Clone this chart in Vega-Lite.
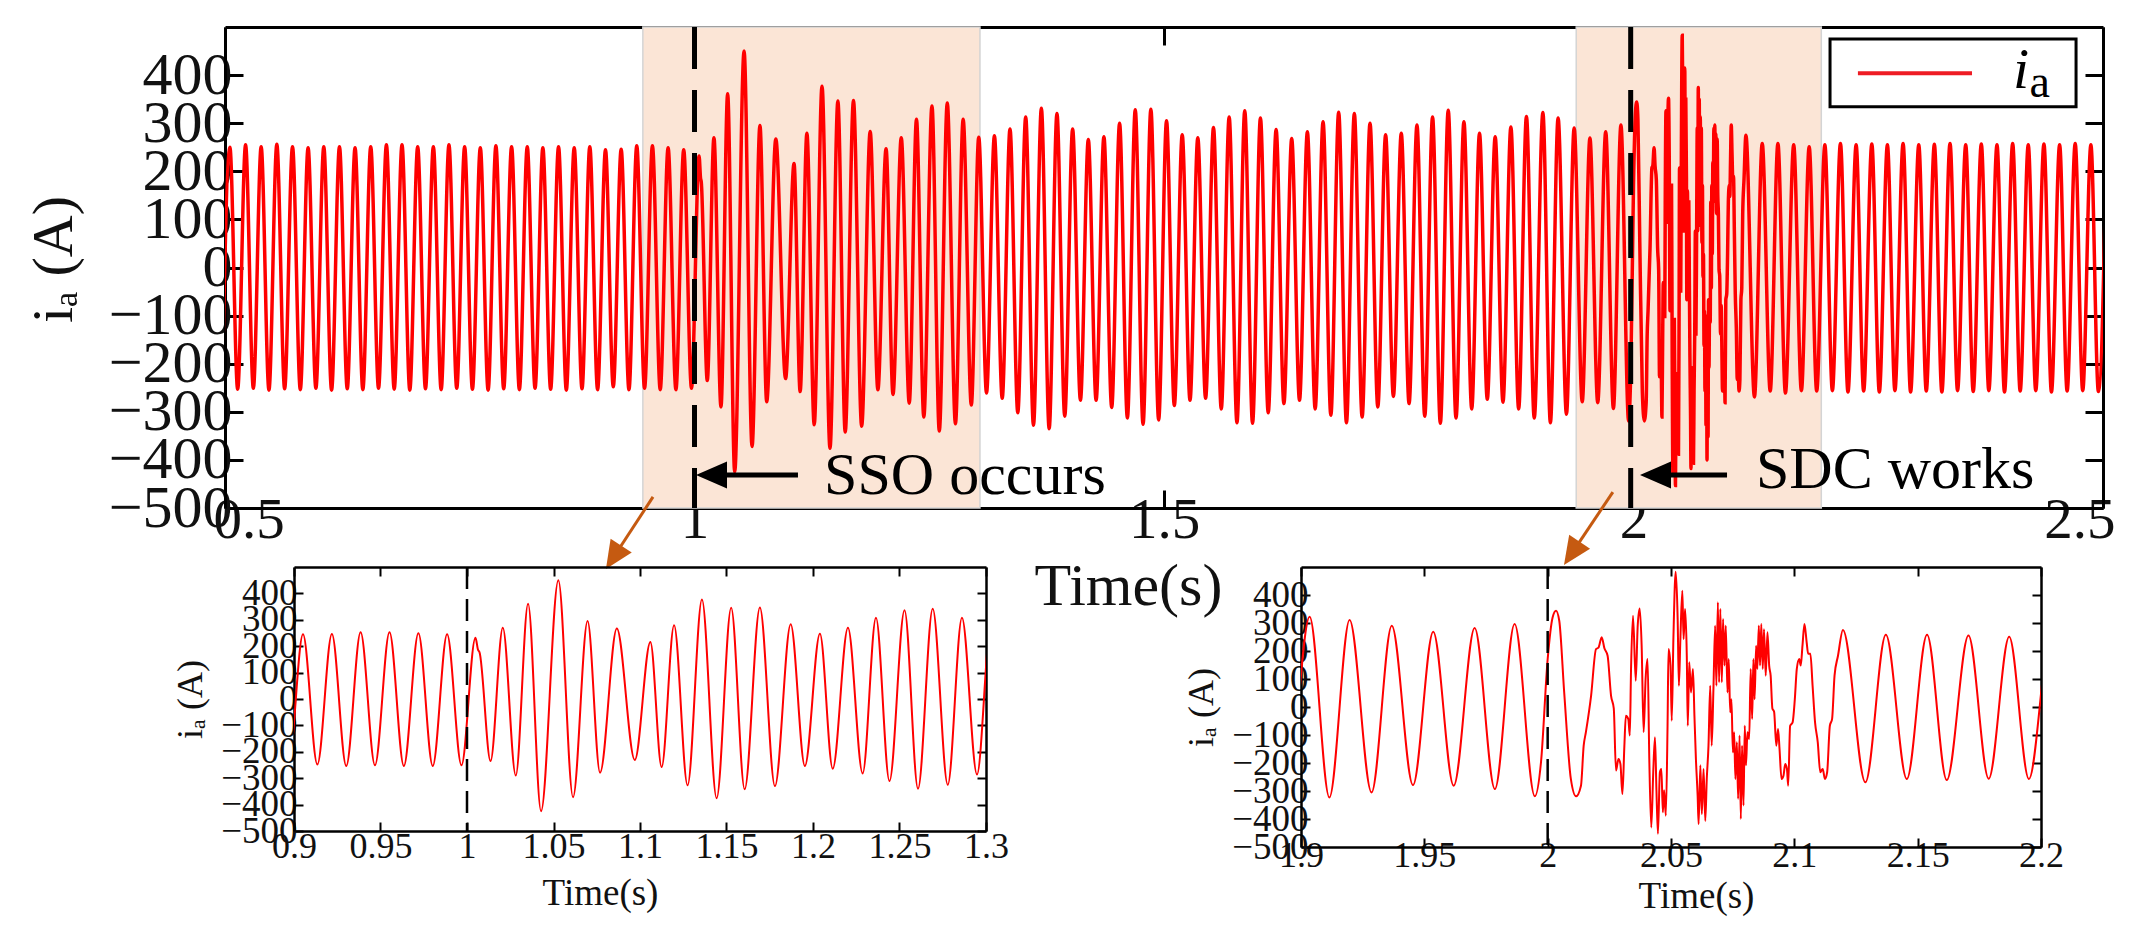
{
  "$schema": "https://vega.github.io/schema/vega-lite/v6.json",
  "background": "white",
  "padding": {"left": 24, "top": 24, "right": 5, "bottom": 5},
  "config": {
    "view": {"stroke": null},
    "font": "Liberation Serif",
    "axis": {
      "labelFont": "Liberation Serif", "titleFont": "Liberation Serif",
      "labelColor": "#111", "titleColor": "#111", "titleFontWeight": "normal",
      "domainColor": "black", "tickColor": "black", "grid": false,
      "labelOverlap": false, "labelBound": false, "zindex": 1
    }
  },
  "datasets": {
    "ia": [
      {"t":0.4969,"ia":-252},{"t":0.5052,"ia":250},{"t":0.5135,"ia":-253},{"t":0.5219,"ia":255},{"t":0.5302,"ia":-251},
      {"t":0.5385,"ia":251},{"t":0.5468,"ia":-255},{"t":0.5552,"ia":256},{"t":0.5635,"ia":-252},{"t":0.5719,"ia":251},
      {"t":0.5802,"ia":-254},{"t":0.5885,"ia":249},{"t":0.5968,"ia":-251},{"t":0.6052,"ia":251},{"t":0.6135,"ia":-255},
      {"t":0.6219,"ia":251},{"t":0.6302,"ia":-252},{"t":0.6385,"ia":249},{"t":0.6468,"ia":-254},{"t":0.6552,"ia":251},
      {"t":0.6635,"ia":-251},{"t":0.6719,"ia":255},{"t":0.6802,"ia":-253},{"t":0.6885,"ia":255},{"t":0.6968,"ia":-255},
      {"t":0.7052,"ia":251},{"t":0.7135,"ia":-252},{"t":0.7219,"ia":251},{"t":0.7302,"ia":-254},{"t":0.7385,"ia":255},
      {"t":0.7468,"ia":-251},{"t":0.7552,"ia":251},{"t":0.7635,"ia":-253},{"t":0.7719,"ia":249},{"t":0.7802,"ia":-255},
      {"t":0.7885,"ia":253},{"t":0.7968,"ia":-252},{"t":0.8052,"ia":251},{"t":0.8135,"ia":-254},{"t":0.8219,"ia":251},
      {"t":0.8302,"ia":-251},{"t":0.8385,"ia":249},{"t":0.8468,"ia":-253},{"t":0.8552,"ia":251},{"t":0.8635,"ia":-255},
      {"t":0.8719,"ia":249},{"t":0.8802,"ia":-252},{"t":0.8885,"ia":251},{"t":0.8968,"ia":-254},{"t":0.9052,"ia":245},
      {"t":0.9135,"ia":-248},{"t":0.9219,"ia":246},{"t":0.9302,"ia":-254},{"t":0.9385,"ia":253},{"t":0.9468,"ia":-251},
      {"t":0.9552,"ia":253},{"t":0.9635,"ia":-254},{"t":0.9719,"ia":249},{"t":0.9802,"ia":-254},{"t":0.9885,"ia":245},
      {"t":0.9968,"ia":-251},
      {"t":1.0049,"ia":232},{"t":1.0064,"ia":186},{"t":1.0072,"ia":178},{"t":1.0136,"ia":-235},{"t":1.0207,"ia":270},
      {"t":1.0282,"ia":-290},{"t":1.0353,"ia":361},{"t":1.0428,"ia":-425},{"t":1.0528,"ia":450},{"t":1.0613,"ia":-372},
      {"t":1.0697,"ia":295},{"t":1.0769,"ia":-279},{"t":1.0866,"ia":267},{"t":1.097,"ia":-231},{"t":1.106,"ia":216},
      {"t":1.1125,"ia":-258},{"t":1.1197,"ia":279},{"t":1.1275,"ia":-327},{"t":1.1358,"ia":377},{"t":1.1443,"ia":-376},
      {"t":1.1527,"ia":346},{"t":1.1605,"ia":-342},{"t":1.1693,"ia":347},{"t":1.178,"ia":-330},{"t":1.1871,"ia":283},
      {"t":1.1953,"ia":-254},{"t":1.204,"ia":247},{"t":1.2114,"ia":-264},{"t":1.2202,"ia":270},{"t":1.2287,"ia":-282},
      {"t":1.2364,"ia":308},{"t":1.2442,"ia":-311},{"t":1.2529,"ia":336},{"t":1.2607,"ia":-340},{"t":1.2692,"ia":342},
      {"t":1.2779,"ia":-325},{"t":1.2861,"ia":308},{"t":1.2948,"ia":-286},
      {"t":1.3027,"ia":271},{"t":1.311,"ia":-261},{"t":1.3194,"ia":274},{"t":1.3277,"ia":-272},{"t":1.336,"ia":288},
      {"t":1.3443,"ia":-302},{"t":1.3527,"ia":313},{"t":1.361,"ia":-328},{"t":1.3694,"ia":331},{"t":1.3777,"ia":-335},
      {"t":1.386,"ia":320},{"t":1.3943,"ia":-309},{"t":1.4027,"ia":288},{"t":1.411,"ia":-276},{"t":1.4194,"ia":266},
      {"t":1.4277,"ia":-276},{"t":1.436,"ia":272},{"t":1.4443,"ia":-291},{"t":1.4527,"ia":300},{"t":1.461,"ia":-313},
      {"t":1.4694,"ia":328},{"t":1.4777,"ia":-326},{"t":1.486,"ia":329},{"t":1.4943,"ia":-317},{"t":1.5027,"ia":305},
      {"t":1.511,"ia":-287},{"t":1.5194,"ia":276},{"t":1.5277,"ia":-276},{"t":1.536,"ia":270},{"t":1.5443,"ia":-272},
      {"t":1.5527,"ia":291},{"t":1.561,"ia":-294},{"t":1.5694,"ia":313},{"t":1.5777,"ia":-323},{"t":1.586,"ia":326},
      {"t":1.5943,"ia":-324},{"t":1.6027,"ia":311},{"t":1.611,"ia":-302},{"t":1.6194,"ia":287},{"t":1.6277,"ia":-283},
      {"t":1.636,"ia":268},{"t":1.6443,"ia":-276},{"t":1.6527,"ia":282},{"t":1.661,"ia":-294},{"t":1.6694,"ia":303},
      {"t":1.6777,"ia":-307},{"t":1.686,"ia":323},{"t":1.6943,"ia":-323},{"t":1.7027,"ia":320},{"t":1.711,"ia":-311},
      {"t":1.7194,"ia":300},{"t":1.7277,"ia":-290},{"t":1.736,"ia":276},{"t":1.7443,"ia":-268},{"t":1.7527,"ia":279},
      {"t":1.761,"ia":-283},{"t":1.7694,"ia":296},{"t":1.7777,"ia":-309},{"t":1.786,"ia":313},{"t":1.7943,"ia":-324},
      {"t":1.8027,"ia":327},{"t":1.811,"ia":-313},{"t":1.8194,"ia":303},{"t":1.8277,"ia":-294},{"t":1.836,"ia":279},
      {"t":1.8443,"ia":-274},{"t":1.8527,"ia":272},{"t":1.861,"ia":-280},{"t":1.8694,"ia":292},{"t":1.8777,"ia":-294},
      {"t":1.886,"ia":314},{"t":1.8943,"ia":-313},
      {"t":1.9035,"ia":322},{"t":1.9115,"ia":-323},{"t":1.9197,"ia":311},{"t":1.9286,"ia":-305},{"t":1.9368,"ia":290},
      {"t":1.9454,"ia":-279},{"t":1.9536,"ia":269},{"t":1.9619,"ia":-281},{"t":1.9704,"ia":282},{"t":1.9786,"ia":-293},
      {"t":1.9866,"ia":296},{"t":1.9948,"ia":-319},{"t":1.9973,"ia":-197},
      {"t":2.0,"ia":171},{"t":2.002,"ia":320},{"t":2.0034,"ia":344},{"t":2.0047,"ia":308},{"t":2.0067,"ia":52},
      {"t":2.0094,"ia":-257},{"t":2.0115,"ia":-319},{"t":2.0135,"ia":-281},{"t":2.0146,"ia":-138},{"t":2.0155,"ia":-90},
      {"t":2.0176,"ia":40},{"t":2.0196,"ia":207},{"t":2.0206,"ia":212},{"t":2.0219,"ia":249},{"t":2.023,"ia":210},
      {"t":2.0243,"ia":183},{"t":2.0257,"ia":40},{"t":2.0268,"ia":-5},{"t":2.0277,"ia":-227},{"t":2.0287,"ia":-186},
      {"t":2.0295,"ia":-204},{"t":2.0303,"ia":-311},{"t":2.0311,"ia":-138},{"t":2.0317,"ia":-31},{"t":2.0327,"ia":-43},
      {"t":2.0333,"ia":-102},{"t":2.0338,"ia":136},{"t":2.0346,"ia":326},{"t":2.0357,"ia":94},{"t":2.0365,"ia":290},
      {"t":2.0373,"ia":352},{"t":2.0381,"ia":219},{"t":2.0389,"ia":-90},{"t":2.0397,"ia":100},{"t":2.0405,"ia":171},
      {"t":2.0412,"ia":-186},{"t":2.042,"ia":-430},{"t":2.0428,"ia":-233},{"t":2.0435,"ia":-108},{"t":2.0441,"ia":-297},
      {"t":2.0447,"ia":-453},{"t":2.0455,"ia":-233},{"t":2.0461,"ia":-221},{"t":2.0467,"ia":-376},{"t":2.0472,"ia":-297},
      {"t":2.0479,"ia":-388},{"t":2.0486,"ia":-67},{"t":2.049,"ia":207},{"t":2.0498,"ia":148},{"t":2.0503,"ia":-49},
      {"t":2.051,"ia":255},{"t":2.0519,"ia":483},{"t":2.0527,"ia":314},{"t":2.0532,"ia":76},{"t":2.0538,"ia":243},
      {"t":2.0546,"ia":415},{"t":2.0551,"ia":243},{"t":2.0557,"ia":350},{"t":2.0564,"ia":183},{"t":2.0568,"ia":-67},
      {"t":2.0574,"ia":160},{"t":2.0581,"ia":52},{"t":2.0589,"ia":136},{"t":2.0595,"ia":-31},{"t":2.0601,"ia":-186},
      {"t":2.0608,"ia":-317},{"t":2.0612,"ia":-418},{"t":2.0619,"ia":-208},{"t":2.0625,"ia":-382},{"t":2.0632,"ia":-221},
      {"t":2.0639,"ia":-407},{"t":2.0645,"ia":-257},{"t":2.0652,"ia":-138},{"t":2.0659,"ia":76},{"t":2.0665,"ia":-138},
      {"t":2.0672,"ia":64},{"t":2.0679,"ia":290},{"t":2.0684,"ia":76},{"t":2.069,"ia":374},{"t":2.0695,"ia":88},
      {"t":2.07,"ia":350},{"t":2.0706,"ia":88},{"t":2.0711,"ia":314},{"t":2.0717,"ia":148},{"t":2.0722,"ia":290},
      {"t":2.0729,"ia":52},{"t":2.0734,"ia":171},{"t":2.074,"ia":-19},{"t":2.0745,"ia":28},{"t":2.0751,"ia":-162},
      {"t":2.0756,"ia":-90},{"t":2.0761,"ia":-257},{"t":2.0767,"ia":-126},{"t":2.0772,"ia":-328},{"t":2.0778,"ia":-102},
      {"t":2.0783,"ia":-400},{"t":2.0788,"ia":-138},{"t":2.0794,"ia":-352},{"t":2.0799,"ia":-67},{"t":2.0804,"ia":-208},
      {"t":2.081,"ia":-90},{"t":2.0817,"ia":-114},{"t":2.0823,"ia":136},{"t":2.0829,"ia":-43},{"t":2.0834,"ia":171},
      {"t":2.0839,"ia":28},{"t":2.0845,"ia":219},{"t":2.085,"ia":136},{"t":2.0856,"ia":290},{"t":2.0861,"ia":148},
      {"t":2.0866,"ia":296},{"t":2.0872,"ia":136},{"t":2.0877,"ia":278},{"t":2.0884,"ia":112},{"t":2.0891,"ia":267},
      {"t":2.0898,"ia":148},{"t":2.0904,"ia":112},{"t":2.0911,"ia":-5},{"t":2.0918,"ia":-17},{"t":2.0927,"ia":-138},
      {"t":2.0934,"ia":-79},{"t":2.094,"ia":-150},{"t":2.0948,"ia":-257},{"t":2.0956,"ia":-245},{"t":2.0963,"ia":-204},
      {"t":2.097,"ia":-221},{"t":2.0975,"ia":-281},{"t":2.0983,"ia":-67},{"t":2.0993,"ia":-55},{"t":2.1002,"ia":28},
      {"t":2.101,"ia":136},{"t":2.102,"ia":171},{"t":2.1026,"ia":148},{"t":2.1033,"ia":219},{"t":2.1041,"ia":296},
      {"t":2.105,"ia":231},{"t":2.1056,"ia":190},{"t":2.1065,"ia":190},{"t":2.1074,"ia":76},{"t":2.1084,"ia":-55},
      {"t":2.1095,"ia":-126},{"t":2.1105,"ia":-233},{"t":2.1115,"ia":-221},{"t":2.1124,"ia":-257},{"t":2.1133,"ia":-233},
      {"t":2.1144,"ia":-67},{"t":2.1153,"ia":-43},{"t":2.1163,"ia":112},{"t":2.1177,"ia":183},{"t":2.1197,"ia":275},
      {"t":2.1288,"ia":-269},{"t":2.1371,"ia":258},{"t":2.1456,"ia":-257},{"t":2.1538,"ia":258},{"t":2.1618,"ia":-261},
      {"t":2.1706,"ia":255},{"t":2.1788,"ia":-256},{"t":2.1871,"ia":251},{"t":2.1951,"ia":-257},
      {"t":2.2038,"ia":255},{"t":2.2118,"ia":-256},{"t":2.2204,"ia":258},{"t":2.2284,"ia":-259},{"t":2.2371,"ia":255},
      {"t":2.2451,"ia":-257},{"t":2.2538,"ia":257},{"t":2.2618,"ia":-259},{"t":2.2704,"ia":255},{"t":2.2784,"ia":-256},
      {"t":2.2871,"ia":258},{"t":2.2951,"ia":-259},{"t":2.3038,"ia":255},{"t":2.3118,"ia":-257},{"t":2.3204,"ia":256},
      {"t":2.3284,"ia":-259},{"t":2.3371,"ia":258},{"t":2.3451,"ia":-256},{"t":2.3538,"ia":255},{"t":2.3618,"ia":-258},
      {"t":2.3704,"ia":257},{"t":2.3784,"ia":-256},{"t":2.3871,"ia":255},{"t":2.3951,"ia":-259},{"t":2.4038,"ia":258},
      {"t":2.4118,"ia":-257},{"t":2.4204,"ia":255},{"t":2.4284,"ia":-256},{"t":2.4371,"ia":257},{"t":2.4451,"ia":-259},
      {"t":2.4538,"ia":255},{"t":2.4618,"ia":-257},{"t":2.4704,"ia":258},{"t":2.4784,"ia":-256},{"t":2.4871,"ia":255},
      {"t":2.4951,"ia":-258},{"t":2.5038,"ia":256}
    ]
  },
  "bounds": "flush",
  "spacing": 59,
  "vconcat": [
    {
      "width": 1878,
      "height": 481,
      "data": {"values": [{}]},
      "resolve": {"axis": {"x": "independent", "y": "independent"}},
      "layer": [
        {
          "data": {"values": [{"start": 0.945, "end": 1.304}, {"start": 1.939, "end": 2.2}]},
          "mark": {"type": "rect", "fill": "#fbe5d6", "stroke": "#d4d4d4", "strokeWidth": 1.5},
          "encoding": {
            "x": {"field": "start", "type": "quantitative", "scale": {"domain": [0.5, 2.5], "nice": false, "zero": false}, "axis": null},
            "x2": {"field": "end"},
            "y": {"datum": -500, "type": "quantitative", "scale": {"domain": [-500, 500], "nice": false, "zero": false}, "axis": null},
            "y2": {"datum": 500}
          }
        },
        {
          "data": {"name": "ia"},
          "mark": {"type": "line", "color": "#ff0000", "strokeWidth": 3.5, "interpolate": "monotone", "clip": true},
          "encoding": {
            "x": {"field": "t", "type": "quantitative", "scale": {"domain": [0.5, 2.5], "nice": false, "zero": false},
              "axis": {"orient": "bottom", "values": [0.5, 1, 1.5, 2, 2.5], "format": ".3~r", "title": "Time(s)",
                "labelFontSize": 57, "titleFontSize": 60, "tickSize": -18, "tickWidth": 3, "domainWidth": 3,
                "labelPadding": 2, "labelFlush": true, "labelFlushOffset": 12, "labelDx": 8,
                "titleX": 903, "titleY": 96, "titleBaseline": "alphabetic"}},
            "y": {"field": "ia", "type": "quantitative", "scale": {"domain": [-500, 500], "nice": false, "zero": false},
              "axis": {"orient": "left", "values": [-500, -400, -300, -200, -100, 0, 100, 200, 300, 400], "format": "d",
                "title": "iₐ (A)", "labelFontSize": 60, "titleFontSize": 58, "tickSize": -18, "tickWidth": 3, "domainWidth": 3,
                "labelPadding": 11, "titleX": -171, "titleY": 232, "titleBaseline": "middle"}}
          }
        },
        {
          "mark": {"type": "point", "opacity": 0},
          "encoding": {
            "x": {"datum": 1, "type": "quantitative", "scale": {"domain": [0.5, 2.5], "nice": false, "zero": false},
              "axis": {"orient": "top", "values": [0.5, 1, 1.5, 2, 2.5], "labels": false, "title": null, "tickSize": -18, "tickWidth": 3, "domainWidth": 3}},
            "y": {"datum": 0, "type": "quantitative", "scale": {"domain": [-500, 500], "nice": false, "zero": false},
              "axis": {"orient": "right", "values": [-500, -400, -300, -200, -100, 0, 100, 200, 300, 400], "labels": false, "title": null, "tickSize": -18, "tickWidth": 3, "domainWidth": 3}}
          }
        },
        {
          "data": {"values": [{"event": 1}, {"event": 1.997}]},
          "mark": {"type": "rule", "color": "black", "strokeWidth": 5, "strokeDash": [42, 21]},
          "encoding": {
            "x": {"field": "event", "type": "quantitative", "scale": {"domain": [0.5, 2.5], "nice": false, "zero": false}, "axis": null},
            "y": {"datum": 500, "type": "quantitative", "scale": {"domain": [-500, 500], "nice": false, "zero": false}, "axis": null},
            "y2": {"datum": -500}
          }
        },
        {
          "mark": {"type": "rule", "color": "#c55a11", "strokeWidth": 3},
          "encoding": {
            "x": {"datum": 0.9558, "type": "quantitative", "scale": {"domain": [0.5, 2.5], "nice": false, "zero": false}, "axis": null},
            "x2": {"datum": 0.9138},
            "y": {"datum": -477, "type": "quantitative", "scale": {"domain": [-500, 500], "nice": false, "zero": false}, "axis": null},
            "y2": {"datum": -602.5}
          }
        },
        {
          "mark": {"type": "point", "shape": "M0,-1L0.9,1L-0.9,1Z", "size": 784, "angle": 213, "filled": true, "color": "#c55a11", "opacity": 1},
          "encoding": {
            "x": {"datum": 0.9138, "type": "quantitative", "scale": {"domain": [0.5, 2.5], "nice": false, "zero": false}, "axis": null},
            "y": {"datum": -602.5, "type": "quantitative", "scale": {"domain": [-500, 500], "nice": false, "zero": false}, "axis": null}
          }
        },
        {
          "mark": {"type": "rule", "color": "#c55a11", "strokeWidth": 3},
          "encoding": {
            "x": {"datum": 1.978, "type": "quantitative", "scale": {"domain": [0.5, 2.5], "nice": false, "zero": false}, "axis": null},
            "x2": {"datum": 1.9343},
            "y": {"datum": -467, "type": "quantitative", "scale": {"domain": [-500, 500], "nice": false, "zero": false}, "axis": null},
            "y2": {"datum": -594.4}
          }
        },
        {
          "mark": {"type": "point", "shape": "M0,-1L0.9,1L-0.9,1Z", "size": 784, "angle": 214, "filled": true, "color": "#c55a11", "opacity": 1},
          "encoding": {
            "x": {"datum": 1.9343, "type": "quantitative", "scale": {"domain": [0.5, 2.5], "nice": false, "zero": false}, "axis": null},
            "y": {"datum": -594.4, "type": "quantitative", "scale": {"domain": [-500, 500], "nice": false, "zero": false}, "axis": null}
          }
        },
        {
          "mark": {"type": "rule", "color": "black", "strokeWidth": 5},
          "encoding": {
            "x": {"datum": 1.1102, "type": "quantitative", "scale": {"domain": [0.5, 2.5], "nice": false, "zero": false}, "axis": null},
            "x2": {"datum": 1.0181},
            "y": {"datum": -431.4, "type": "quantitative", "scale": {"domain": [-500, 500], "nice": false, "zero": false}, "axis": null}
          }
        },
        {
          "mark": {"type": "point", "shape": "M-1,0L1,-0.87L1,0.87Z", "size": 961, "filled": true, "color": "black", "opacity": 1},
          "encoding": {
            "x": {"datum": 1.0181, "type": "quantitative", "scale": {"domain": [0.5, 2.5], "nice": false, "zero": false}, "axis": null},
            "y": {"datum": -431.4, "type": "quantitative", "scale": {"domain": [-500, 500], "nice": false, "zero": false}, "axis": null}
          }
        },
        {
          "mark": {"type": "rule", "color": "black", "strokeWidth": 5},
          "encoding": {
            "x": {"datum": 2.0996, "type": "quantitative", "scale": {"domain": [0.5, 2.5], "nice": false, "zero": false}, "axis": null},
            "x2": {"datum": 2.0234},
            "y": {"datum": -431.4, "type": "quantitative", "scale": {"domain": [-500, 500], "nice": false, "zero": false}, "axis": null}
          }
        },
        {
          "mark": {"type": "point", "shape": "M-1,0L1,-0.87L1,0.87Z", "size": 961, "filled": true, "color": "black", "opacity": 1},
          "encoding": {
            "x": {"datum": 2.0234, "type": "quantitative", "scale": {"domain": [0.5, 2.5], "nice": false, "zero": false}, "axis": null},
            "y": {"datum": -431.4, "type": "quantitative", "scale": {"domain": [-500, 500], "nice": false, "zero": false}, "axis": null}
          }
        },
        {
          "mark": {"type": "text", "text": "SSO occurs", "font": "Liberation Serif", "fontSize": 60, "align": "left", "baseline": "alphabetic", "color": "black"},
          "encoding": {
            "x": {"datum": 1.138, "type": "quantitative", "scale": {"domain": [0.5, 2.5], "nice": false, "zero": false}, "axis": null},
            "y": {"datum": -471, "type": "quantitative", "scale": {"domain": [-500, 500], "nice": false, "zero": false}, "axis": null}
          }
        },
        {
          "mark": {"type": "text", "text": "SDC works", "font": "Liberation Serif", "fontSize": 60, "align": "left", "baseline": "alphabetic", "color": "black"},
          "encoding": {
            "x": {"datum": 2.1304, "type": "quantitative", "scale": {"domain": [0.5, 2.5], "nice": false, "zero": false}, "axis": null},
            "y": {"datum": -458, "type": "quantitative", "scale": {"domain": [-500, 500], "nice": false, "zero": false}, "axis": null}
          }
        },
        {
          "mark": {"type": "rect", "fill": "white", "stroke": "black", "strokeWidth": 3},
          "encoding": {
            "x": {"datum": 2.2093, "type": "quantitative", "scale": {"domain": [0.5, 2.5], "nice": false, "zero": false}, "axis": null},
            "x2": {"datum": 2.4713},
            "y": {"datum": 334, "type": "quantitative", "scale": {"domain": [-500, 500], "nice": false, "zero": false}, "axis": null},
            "y2": {"datum": 475}
          }
        },
        {
          "mark": {"type": "rule", "color": "#ee1c24", "strokeWidth": 4},
          "encoding": {
            "x": {"datum": 2.239, "type": "quantitative", "scale": {"domain": [0.5, 2.5], "nice": false, "zero": false}, "axis": null},
            "x2": {"datum": 2.3605},
            "y": {"datum": 404, "type": "quantitative", "scale": {"domain": [-500, 500], "nice": false, "zero": false}, "axis": null}
          }
        },
        {
          "mark": {"type": "text", "text": "i", "font": "Liberation Serif", "fontStyle": "italic", "fontSize": 58, "align": "left", "baseline": "alphabetic", "color": "black"},
          "encoding": {
            "x": {"datum": 2.4042, "type": "quantitative", "scale": {"domain": [0.5, 2.5], "nice": false, "zero": false}, "axis": null},
            "y": {"datum": 373, "type": "quantitative", "scale": {"domain": [-500, 500], "nice": false, "zero": false}, "axis": null}
          }
        },
        {
          "mark": {"type": "text", "text": "a", "font": "Liberation Serif", "fontSize": 46, "align": "left", "baseline": "alphabetic", "color": "black"},
          "encoding": {
            "x": {"datum": 2.4218, "type": "quantitative", "scale": {"domain": [0.5, 2.5], "nice": false, "zero": false}, "axis": null},
            "y": {"datum": 355, "type": "quantitative", "scale": {"domain": [-500, 500], "nice": false, "zero": false}, "axis": null}
          }
        }
      ]
    },
    {
      "bounds": "flush",
      "spacing": 0,
      "hconcat": [
        {"width": 69, "height": 10, "data": {"values": []}, "mark": "point"},
        {
          "width": 692,
          "height": 264,
          "data": {"values": [{}]},
          "resolve": {"axis": {"x": "independent", "y": "independent"}},
          "layer": [
            {
              "data": {"name": "ia"},
              "transform": [{"filter": {"field": "t", "range": [0.88, 1.32]}}],
              "mark": {"type": "line", "color": "#ff0000", "strokeWidth": 2, "interpolate": "monotone", "clip": true},
              "encoding": {
                "x": {"field": "t", "type": "quantitative", "scale": {"domain": [0.9, 1.3], "nice": false, "zero": false},
                  "axis": {"orient": "bottom", "values": [0.9, 0.95, 1, 1.05, 1.1, 1.15, 1.2, 1.25, 1.3], "format": ".3~r", "title": "Time(s)",
                    "labelFontSize": 36, "titleFontSize": 37, "tickSize": -9, "tickWidth": 2, "domainWidth": 2.5,
                    "labelPadding": 7, "labelFlush": false, "titleX": 306, "titleY": 73, "titleBaseline": "alphabetic"}},
                "y": {"field": "ia", "type": "quantitative", "scale": {"domain": [-500, 500], "nice": false, "zero": false},
                  "axis": {"orient": "left", "values": [-500, -400, -300, -200, -100, 0, 100, 200, 300, 400], "format": "d",
                    "title": "iₐ (A)", "labelFontSize": 37, "titleFontSize": 36, "tickSize": -9, "tickWidth": 2, "domainWidth": 2.5,
                    "labelPadding": 6, "titleX": -104, "titleBaseline": "middle"}}
              }
            },
            {
              "mark": {"type": "point", "opacity": 0},
              "encoding": {
                "x": {"datum": 1, "type": "quantitative", "scale": {"domain": [0.9, 1.3], "nice": false, "zero": false},
                  "axis": {"orient": "top", "values": [0.9, 0.95, 1, 1.05, 1.1, 1.15, 1.2, 1.25, 1.3], "labels": false, "title": null, "tickSize": -9, "tickWidth": 2, "domainWidth": 2.5}},
                "y": {"datum": 0, "type": "quantitative", "scale": {"domain": [-500, 500], "nice": false, "zero": false},
                  "axis": {"orient": "right", "values": [-500, -400, -300, -200, -100, 0, 100, 200, 300, 400], "labels": false, "title": null, "tickSize": -9, "tickWidth": 2, "domainWidth": 2.5}}
              }
            },
            {
              "data": {"values": [{"event": 1}]},
              "mark": {"type": "rule", "color": "black", "strokeWidth": 2.5, "strokeDash": [22, 10]},
              "encoding": {
                "x": {"field": "event", "type": "quantitative", "scale": {"domain": [0.9, 1.3], "nice": false, "zero": false}, "axis": null},
                "y": {"datum": 500, "type": "quantitative", "scale": {"domain": [-500, 500], "nice": false, "zero": false}, "axis": null},
                "y2": {"datum": -500}
              }
            }
          ]
        },
        {"width": 315, "height": 10, "data": {"values": []}, "mark": "point"},
        {
          "width": 740,
          "height": 280,
          "data": {"values": [{}]},
          "resolve": {"axis": {"x": "independent", "y": "independent"}},
          "layer": [
            {
              "data": {"name": "ia"},
              "transform": [{"filter": {"field": "t", "range": [1.88, 2.22]}}],
              "mark": {"type": "line", "color": "#ff0000", "strokeWidth": 2, "interpolate": "monotone", "clip": true},
              "encoding": {
                "x": {"field": "t", "type": "quantitative", "scale": {"domain": [1.9, 2.2], "nice": false, "zero": false},
                  "axis": {"orient": "bottom", "values": [1.9, 1.95, 2, 2.05, 2.1, 2.15, 2.2], "format": ".3~r", "title": "Time(s)",
                    "labelFontSize": 36, "titleFontSize": 37, "tickSize": -9, "tickWidth": 2, "domainWidth": 2.5,
                    "labelPadding": 0, "labelFlush": false, "titleX": 395, "titleY": 60, "titleBaseline": "alphabetic"}},
                "y": {"field": "ia", "type": "quantitative", "scale": {"domain": [-500, 500], "nice": false, "zero": false},
                  "axis": {"orient": "left", "values": [-500, -400, -300, -200, -100, 0, 100, 200, 300, 400], "format": "d",
                    "title": "iₐ (A)", "labelFontSize": 37, "titleFontSize": 36, "tickSize": -9, "tickWidth": 2, "domainWidth": 2.5,
                    "labelPadding": 2, "titleX": -100, "titleBaseline": "middle"}}
              }
            },
            {
              "mark": {"type": "point", "opacity": 0},
              "encoding": {
                "x": {"datum": 2, "type": "quantitative", "scale": {"domain": [1.9, 2.2], "nice": false, "zero": false},
                  "axis": {"orient": "top", "values": [1.9, 1.95, 2, 2.05, 2.1, 2.15, 2.2], "labels": false, "title": null, "tickSize": -9, "tickWidth": 2, "domainWidth": 2.5}},
                "y": {"datum": 0, "type": "quantitative", "scale": {"domain": [-500, 500], "nice": false, "zero": false},
                  "axis": {"orient": "right", "values": [-500, -400, -300, -200, -100, 0, 100, 200, 300, 400], "labels": false, "title": null, "tickSize": -9, "tickWidth": 2, "domainWidth": 2.5}}
              }
            },
            {
              "data": {"values": [{"event": 2}]},
              "mark": {"type": "rule", "color": "black", "strokeWidth": 2.5, "strokeDash": [22, 10]},
              "encoding": {
                "x": {"field": "event", "type": "quantitative", "scale": {"domain": [1.9, 2.2], "nice": false, "zero": false}, "axis": null},
                "y": {"datum": 500, "type": "quantitative", "scale": {"domain": [-500, 500], "nice": false, "zero": false}, "axis": null},
                "y2": {"datum": -500}
              }
            }
          ]
        }
      ]
    }
  ]
}
